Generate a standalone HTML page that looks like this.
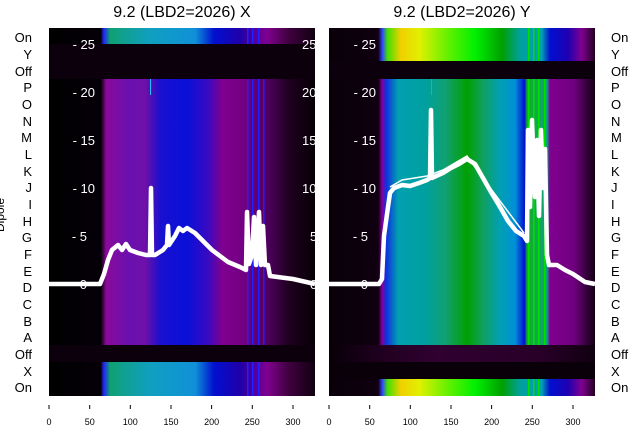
<!DOCTYPE html>
<html><head><meta charset="utf-8"><style>
html,body{margin:0;padding:0;background:#fff;}
svg{display:block;font-family:"Liberation Sans","DejaVu Sans",sans-serif;}
</style></head><body>
<svg width="640" height="440" viewBox="0 0 640 440" xmlns="http://www.w3.org/2000/svg">
<defs>
<linearGradient id="xon" gradientUnits="userSpaceOnUse" x1="49" x2="315" y1="0" y2="0">
<stop offset="0" stop-color="#000"/><stop offset="0.195" stop-color="#050008"/>
<stop offset="0.205" stop-color="#2020ff"/><stop offset="0.23" stop-color="#10a070"/>
<stop offset="0.28" stop-color="#10a090"/><stop offset="0.38" stop-color="#10a0c0"/>
<stop offset="0.55" stop-color="#1090d8"/><stop offset="0.62" stop-color="#0010d0"/>
<stop offset="0.72" stop-color="#2000a8"/><stop offset="0.82" stop-color="#800090"/>
<stop offset="0.9" stop-color="#400040"/><stop offset="1" stop-color="#100010"/>
</linearGradient>
<linearGradient id="xmain" gradientUnits="userSpaceOnUse" x1="49" x2="315" y1="0" y2="0">
<stop offset="0" stop-color="#000"/><stop offset="0.195" stop-color="#050008"/>
<stop offset="0.215" stop-color="#8a0a9a"/><stop offset="0.3" stop-color="#6a10b0"/>
<stop offset="0.36" stop-color="#7010a8"/><stop offset="0.42" stop-color="#1810d0"/>
<stop offset="0.52" stop-color="#0a10d8"/><stop offset="0.6" stop-color="#3a0ac0"/>
<stop offset="0.65" stop-color="#800090"/><stop offset="0.74" stop-color="#700080"/>
<stop offset="0.82" stop-color="#500060"/><stop offset="0.9" stop-color="#200020"/>
<stop offset="1" stop-color="#050005"/>
</linearGradient>
<linearGradient id="yon" gradientUnits="userSpaceOnUse" x1="329" x2="595" y1="0" y2="0">
<stop offset="0" stop-color="#080008"/><stop offset="0.185" stop-color="#100010"/>
<stop offset="0.2" stop-color="#3040ff"/><stop offset="0.22" stop-color="#40e000"/>
<stop offset="0.27" stop-color="#f0d000"/><stop offset="0.34" stop-color="#e0f000"/>
<stop offset="0.45" stop-color="#60f000"/><stop offset="0.55" stop-color="#00f000"/>
<stop offset="0.65" stop-color="#00a000"/><stop offset="0.72" stop-color="#00a0a0"/>
<stop offset="0.8" stop-color="#00a0b0"/><stop offset="0.83" stop-color="#0010d0"/>
<stop offset="0.9" stop-color="#2000b0"/><stop offset="0.95" stop-color="#800090"/>
<stop offset="1" stop-color="#200020"/>
</linearGradient>
<linearGradient id="ymain" gradientUnits="userSpaceOnUse" x1="329" x2="595" y1="0" y2="0">
<stop offset="0" stop-color="#080008"/><stop offset="0.185" stop-color="#100010"/>
<stop offset="0.2" stop-color="#8000a0"/><stop offset="0.215" stop-color="#1030e0"/>
<stop offset="0.26" stop-color="#00a0b0"/><stop offset="0.36" stop-color="#00a0a0"/>
<stop offset="0.44" stop-color="#10a070"/><stop offset="0.52" stop-color="#00a000"/>
<stop offset="0.58" stop-color="#10a060"/><stop offset="0.64" stop-color="#00a0b0"/>
<stop offset="0.7" stop-color="#0090d8"/><stop offset="0.735" stop-color="#0010d0"/>
<stop offset="0.745" stop-color="#10b020"/><stop offset="0.82" stop-color="#10a080"/>
<stop offset="0.83" stop-color="#800090"/><stop offset="0.92" stop-color="#700080"/>
<stop offset="1" stop-color="#100010"/>
</linearGradient>
<linearGradient id="ydark" gradientUnits="userSpaceOnUse" x1="329" x2="595" y1="0" y2="0">
<stop offset="0" stop-color="#080008"/><stop offset="0.2" stop-color="#200020"/>
<stop offset="0.4" stop-color="#300030"/><stop offset="0.8" stop-color="#280028"/>
<stop offset="1" stop-color="#100010"/>
</linearGradient>
</defs>

<text x="182" y="17" font-size="16" text-anchor="middle">9.2 (LBD2=2026) X</text>
<text x="462" y="17" font-size="16" text-anchor="middle">9.2 (LBD2=2026) Y</text>

<rect x="49" y="28" width="266" height="368" fill="#000"/>
<rect x="49" y="28" width="266" height="16" fill="url(#xon)"/>
<rect x="49" y="44" width="266" height="35" fill="#0c000c"/>
<rect x="49" y="79" width="266" height="266" fill="url(#xmain)"/>
<rect x="49" y="345" width="266" height="17" fill="#0c000c"/>
<rect x="49" y="362" width="266" height="34" fill="url(#xon)"/>
<g fill="#2020ff">
<rect x="247" y="28" width="1.5" height="16"/><rect x="252" y="28" width="1.5" height="16"/><rect x="258" y="28" width="1.5" height="16"/>
<rect x="247" y="79" width="1.5" height="266"/><rect x="252" y="79" width="1.5" height="266"/><rect x="258" y="79" width="1.5" height="266"/><rect x="263" y="79" width="1.5" height="266"/>
<rect x="247" y="362" width="1.5" height="34"/><rect x="252" y="362" width="1.5" height="34"/><rect x="258" y="362" width="1.5" height="34"/>
</g>
<rect x="150" y="79" width="1" height="16" fill="#20c0ff"/>

<rect x="329" y="28" width="266" height="368" fill="#080008"/>
<rect x="329" y="28" width="266" height="33" fill="url(#yon)"/>
<rect x="329" y="61" width="266" height="18" fill="#0c000c"/>
<rect x="329" y="79" width="266" height="266" fill="url(#ymain)"/>
<rect x="329" y="345" width="266" height="17" fill="url(#ydark)"/>
<rect x="329" y="362" width="266" height="17" fill="#0a000a"/>
<rect x="329" y="379" width="266" height="17" fill="url(#yon)"/>
<g fill="#00e000">
<rect x="528" y="79" width="1.5" height="266"/><rect x="533" y="79" width="1.5" height="266"/><rect x="538" y="79" width="1.5" height="266"/><rect x="544" y="79" width="1.5" height="266"/>
<rect x="528" y="28" width="1.5" height="33"/><rect x="533" y="28" width="1.5" height="33"/><rect x="538" y="28" width="1.5" height="33"/>
<rect x="528" y="379" width="1.5" height="17"/><rect x="533" y="379" width="1.5" height="17"/><rect x="538" y="379" width="1.5" height="17"/>
</g>
<rect x="431" y="79" width="1" height="16" fill="#20d020"/>

<g fill="#fff" font-size="13" text-anchor="end">
<text x="95" y="49">- 25</text><text x="95" y="97">- 20</text><text x="95" y="145">- 15</text>
<text x="95" y="193">- 10</text><text x="87" y="241">- 5</text><text x="87" y="289">0</text>
<text x="376" y="49">- 25</text><text x="376" y="97">- 20</text><text x="376" y="145">- 15</text>
<text x="376" y="193">- 10</text><text x="368" y="241">- 5</text><text x="368" y="289">0</text>
</g>
<g fill="#fff" font-size="13">
<text x="302" y="49">25</text><text x="302" y="97">20</text><text x="302" y="145">15</text>
<text x="302" y="193">10</text><text x="310" y="241">5</text><text x="310" y="289">0</text>
</g>

<polyline fill="none" stroke="#fff" stroke-width="4.5" stroke-linejoin="round" points="49,284 100,284 104,274 108,260 112,250 118,245 122,250 126,244 130,250 138,253 146,255 150,255 151,188 152,255 155,255 163,250 167,245 168,226 169,245 175,236 179,228 183,231 187,228 195,233 203,241 212,250 228,262 240,267 246,270 247,212 249,264 252,255 254,217 256,265 259,212 261,265 263,226 265,265 268,265 270,276 293,279 315,284"/>
<polyline fill="none" stroke="#fff" stroke-width="4.5" stroke-linejoin="round" points="329,284 379,284 382,279 384,236 388,207 390,193 394,188 402,185 410,186 419,183 427,180 430,178 431,110 432,178 443,173 451,168 459,164 467,159 475,164 483,178 491,192 500,207 508,221 516,231 524,236 527,241 528,130 530,207 532,120 535,197 537,140 539,216 541,130 543,188 545,149 547,255 549,265 557,265 565,270 573,274 585,282 595,284"/>
<polyline fill="none" stroke="#fff" stroke-width="1.5" points="390,187 402,180 427,176 443,170 467,156 491,189 524,233"/>

<g font-size="13" text-anchor="end" fill="#000">
<text x="32" y="42">On</text><text x="32" y="59">Y</text><text x="32" y="76">Off</text>
<text x="32" y="92">P</text><text x="32" y="109">O</text><text x="32" y="126">N</text>
<text x="32" y="142">M</text><text x="32" y="159">L</text><text x="32" y="176">K</text>
<text x="32" y="192">J</text><text x="32" y="209">I</text><text x="32" y="226">H</text>
<text x="32" y="242">G</text><text x="32" y="259">F</text><text x="32" y="276">E</text>
<text x="32" y="292">D</text><text x="32" y="309">C</text><text x="32" y="326">B</text>
<text x="32" y="342">A</text><text x="32" y="359">Off</text><text x="32" y="376">X</text>
<text x="32" y="392">On</text>
</g>
<g font-size="13" fill="#000">
<text x="611" y="42">On</text><text x="611" y="59">Y</text><text x="611" y="76">Off</text>
<text x="611" y="92">P</text><text x="611" y="109">O</text><text x="611" y="126">N</text>
<text x="611" y="142">M</text><text x="611" y="159">L</text><text x="611" y="176">K</text>
<text x="611" y="192">J</text><text x="611" y="209">I</text><text x="611" y="226">H</text>
<text x="611" y="242">G</text><text x="611" y="259">F</text><text x="611" y="276">E</text>
<text x="611" y="292">D</text><text x="611" y="309">C</text><text x="611" y="326">B</text>
<text x="611" y="342">A</text><text x="611" y="359">Off</text><text x="611" y="376">X</text>
<text x="611" y="392">On</text>
</g>
<text transform="translate(4,215) rotate(-90)" font-size="12" text-anchor="middle">Dipole</text>

<g stroke="#000" stroke-width="1">
<line x1="49" y1="405" x2="49" y2="409"/><line x1="89.7" y1="405" x2="89.7" y2="409"/><line x1="130.3" y1="405" x2="130.3" y2="409"/><line x1="171" y1="405" x2="171" y2="409"/><line x1="211.6" y1="405" x2="211.6" y2="409"/><line x1="252.3" y1="405" x2="252.3" y2="409"/><line x1="293" y1="405" x2="293" y2="409"/>
<line x1="329" y1="405" x2="329" y2="409"/><line x1="369.7" y1="405" x2="369.7" y2="409"/><line x1="410.3" y1="405" x2="410.3" y2="409"/><line x1="451" y1="405" x2="451" y2="409"/><line x1="491.6" y1="405" x2="491.6" y2="409"/><line x1="532.3" y1="405" x2="532.3" y2="409"/><line x1="573" y1="405" x2="573" y2="409"/>
</g>
<g font-size="9" text-anchor="middle" fill="#000">
<text x="49" y="425">0</text><text x="89.7" y="425">50</text><text x="130.3" y="425">100</text><text x="171" y="425">150</text><text x="211.6" y="425">200</text><text x="252.3" y="425">250</text><text x="293" y="425">300</text>
<text x="329" y="425">0</text><text x="369.7" y="425">50</text><text x="410.3" y="425">100</text><text x="451" y="425">150</text><text x="491.6" y="425">200</text><text x="532.3" y="425">250</text><text x="573" y="425">300</text>
</g>
</svg>
</body></html>
